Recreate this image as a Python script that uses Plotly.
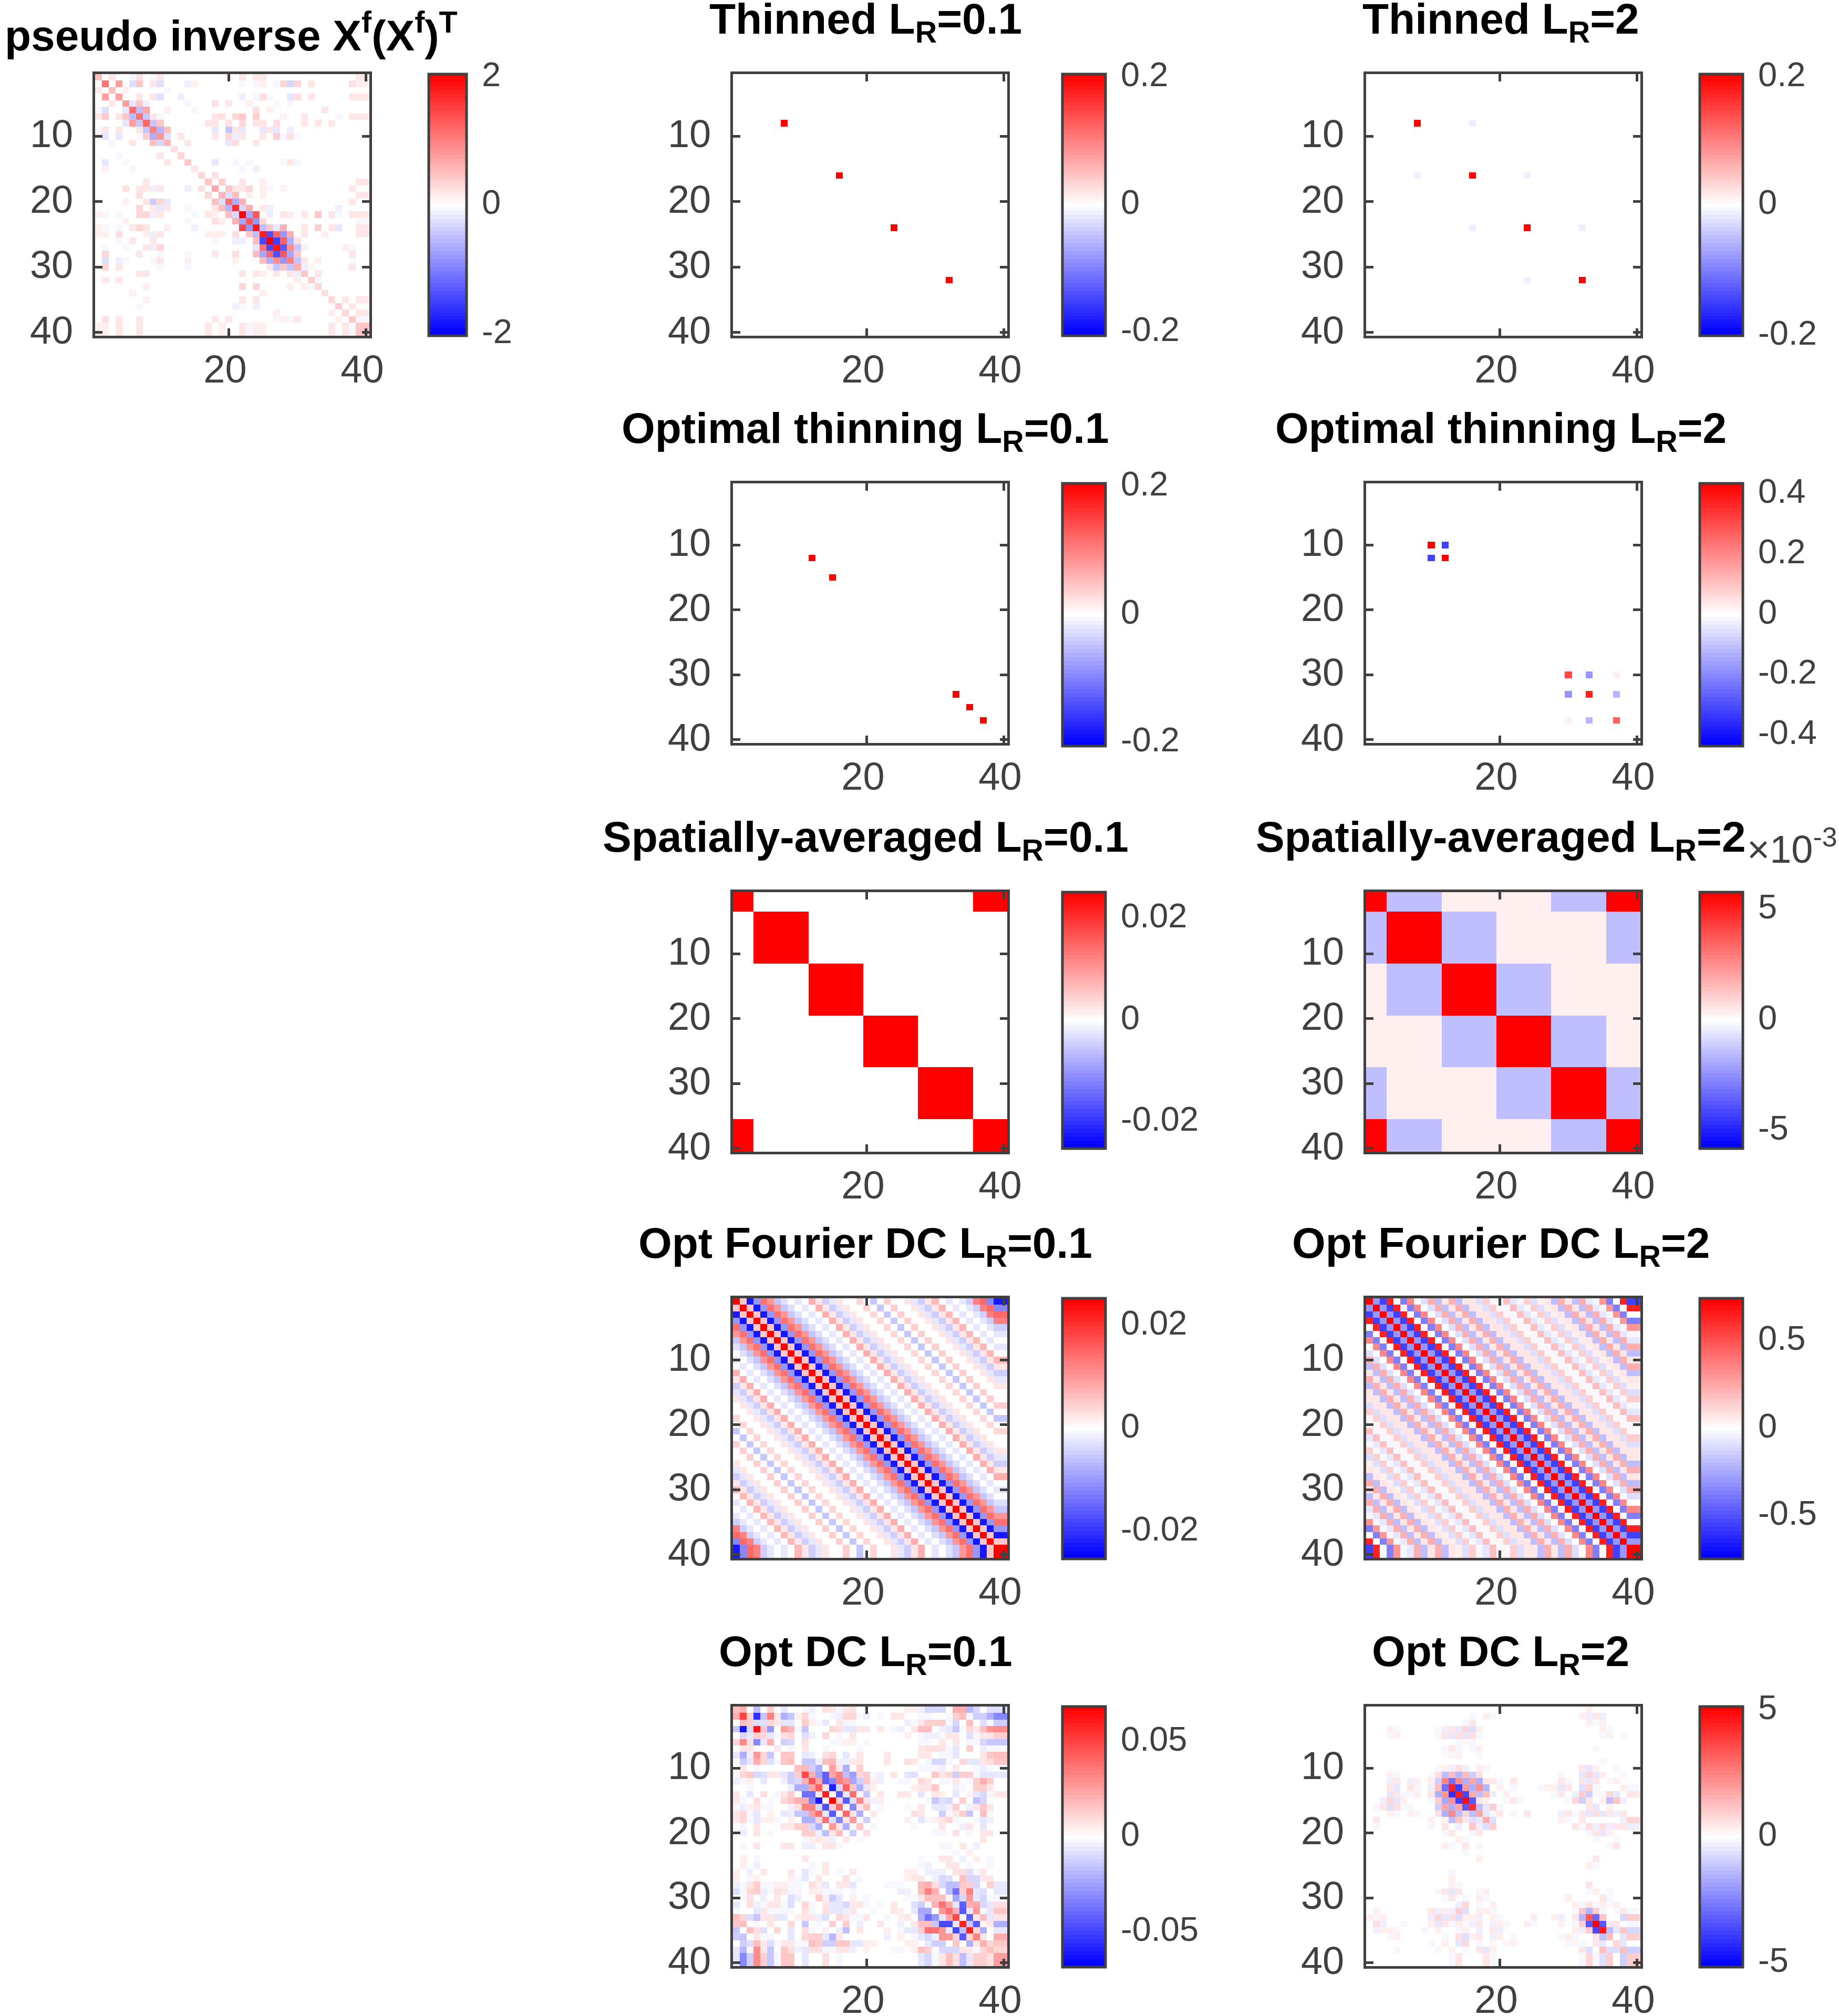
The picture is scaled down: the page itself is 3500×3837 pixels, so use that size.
import plotly.graph_objects as go

# values, in percent of each panel's colour limit
# each row: {column: percent}, rows/columns 1-39, the 40th repeats the 39th
pinv_rows = [
    {1:25,3:8,6:-3,7:12,9:-4,10:10,20:5,22:10,24:10,25:10,39:10},
    {2:55,4:38,6:-12,7:22,9:8,10:-12,14:-6,15:6,22:-4,24:-3,25:5,27:-3,28:15,29:-15,30:15,32:8,38:12,39:7},
    {1:8,3:25,5:6,11:-4},
    {2:38,4:38,7:8,9:8,10:-12,13:-5,22:-5,24:-4,25:12,26:-4,29:-10,30:12,32:8,38:8,39:8},
    {3:8,5:38,6:-8,7:22,8:-7,14:-3,18:12,20:8,23:6,27:-2,29:-4},
    {1:-3,2:-12,5:-8,6:55,7:-25,8:35,11:7,15:-3,24:12,26:6,34:8},
    {1:8,2:22,4:8,5:22,6:-25,7:55,8:-20,9:10,10:-3,18:10,19:12,21:15,22:20,24:18,28:6,31:8,36:-4,38:10,39:8},
    {5:-8,6:38,7:-22,8:60,9:-22,10:22,17:8,18:8,20:10,22:15,24:8,25:8,27:12,31:8,33:10,35:10},
    {1:-3,2:10,4:8,7:10,8:-22,9:50,10:-28,11:25,18:-8,20:-20,21:10,22:-8,25:-8,26:8,27:-8,29:-5},
    {1:5,2:-10,4:-10,7:-3,8:18,9:-30,10:40,11:-12,13:8,18:8,20:15,21:-6,22:10,25:10,27:18,28:-3,29:12,30:-3},
    {3:-3,6:8,9:25,10:-15,11:28,14:8,20:-8,21:12,24:10},
    {12:12},
    {4:-3,10:10,13:15},
    {2:-10,5:-4,11:8,14:20,18:-8,21:-3,23:-3,28:-3,29:8,30:-3},
    {2:7,6:-3,15:10,22:-3,24:-6},
    {16:15,18:12},
    {8:8,17:20,19:18,22:10,25:7,39:10},
    {5:12,7:8,8:8,9:-6,10:8,14:-6,16:12,18:35,20:22,21:8,22:8,23:15,25:7,26:-3,28:6,38:8},
    {7:12,17:15,19:28,20:-12,21:25,23:6,25:7,39:8},
    {1:4,5:6,8:10,9:-18,10:15,11:-8,18:25,19:-12,20:55,21:-32,22:30,38:8},
    {7:15,9:10,10:-8,11:8,14:-3,18:8,19:25,20:-28,21:80,22:-15,23:30,25:10,26:-6,36:-6},
    {1:6,2:-3,4:-3,7:15,8:15,9:-6,10:10,15:-3,17:8,18:6,20:25,21:-15,22:100,23:-35,24:65,26:-6,28:10,29:6,31:10,33:20,35:10,36:-3,38:10,39:8},
    {5:6,14:-3,18:12,19:6,21:30,22:-35,23:65,24:-40,25:15,39:-4},
    {1:6,2:-4,4:-4,6:10,7:15,8:8,11:7,15:-6,22:70,23:-40,24:90,25:-25,26:22,27:-10,28:30,31:10,33:18,35:10,36:-8,39:10},
    {1:6,2:6,4:12,8:7,9:-7,10:10,17:6,18:6,19:6,21:12,23:22,24:-25,25:85,26:-68,27:60,28:-40,29:30,31:8,34:6,39:8},
    {4:-3,6:8,9:8,18:-3,21:-6,22:-6,24:25,25:-70,26:100,27:-75,28:62,29:-30,30:12},
    {2:-3,5:-3,8:10,9:-5,10:15,24:-10,25:55,26:-72,27:90,28:-65,29:42,30:-20,31:7,37:6,38:-3},
    {2:15,7:8,10:-3,14:-3,18:10,21:12,24:25,25:-35,26:60,27:-68,28:65,29:-35,30:22,38:8},
    {2:-12,4:-6,5:-3,9:-3,10:10,14:7,21:6,25:25,26:-30,27:42,28:-40,29:50,30:-20,31:8,33:6,38:-3},
    {2:15,4:10,10:-3,14:-3,26:10,27:-20,28:22,29:-20,30:30,31:-6,32:4,38:8},
    {7:8,8:8,22:10,24:10,25:6,27:10,29:10,30:-6,31:22,33:8},
    {2:8,4:8,30:6,32:18,33:-3},
    {8:6,22:15,24:15,29:6,31:6,32:-3,33:15},
    {6:6,25:5,34:13},
    {8:7,22:10,24:8,35:15,37:8,39:8},
    {7:-3,21:-6,22:-3,24:-6,36:18,38:8},
    {27:6,35:6,37:15,39:10},
    {2:12,4:8,7:8,18:8,20:8,27:-3,28:6,29:-3,30:8,36:6,38:22,39:-4},
    {1:7,2:7,4:8,7:8,17:8,19:7,22:10,23:-3,24:7,25:7,35:8,37:8,38:-4,39:20},
]

# single cells: row, column, percent
thin01_rows = [8, 16, 24, 32]
thin01_vals = [100, 100, 100, 100]
thin2_rows = [8, 16, 24, 32, 8, 16, 16, 24, 24, 32]
thin2_cols = [8, 16, 24, 32, 16, 8, 24, 16, 32, 24]
thin2_vals = [100, 100, 100, 100, -6, -6, -6, -6, -6, -6]
opt01_rows = [12, 15, 33, 35, 37]
opt01_vals = [100, 100, 100, 100, 100]
opt2_rows = [10, 10, 12, 12, 30, 30, 30, 33, 33, 33, 37, 37, 37]
opt2_cols = [10, 12, 10, 12, 30, 33, 37, 30, 33, 37, 30, 33, 37]
opt2_vals = [100, -75, -75, 100, 70, -40, 6, -40, 85, -27, 6, -27, 60]

# spatially averaged panels: first index of each block, then block values
block_starts = [1, 4, 12, 20, 28, 36]
spatial01_blocks = [
    [100, 0, 0, 0, 0, 100],
    [0, 100, 0, 0, 0, 0],
    [0, 0, 100, 0, 0, 0],
    [0, 0, 0, 100, 0, 0],
    [0, 0, 0, 0, 100, 0],
    [100, 0, 0, 0, 0, 100],
]
spatial2_blocks = [
    [100, -25, 6, 6, -25, 100],
    [-25, 100, -25, 6, 6, -25],
    [6, -25, 100, -25, 6, 6],
    [6, 6, -25, 100, -25, 6],
    [-25, 6, 6, -25, 100, -25],
    [100, -25, 6, 6, -25, 100],
]

# Fourier panels: value by distance from the diagonal
fourier01_lags = [100, 20, -90, -40, 55, 40, -20, -12, 0, -10, 0, 30, 10, -18, -8, 8, 0, 0, 15, 0,
                  -22, 0, 18, 0, 0, 10, -8, -17, 8, 28, 0, -8, 0, -10, -18, 50, 60, -45, -90]
fourier2_lags = [100, -40, -75, 85, 2, -50, 45, 0, -12, 30, -25, 10, 30, -25, 8, 10, -12, 18, 3, -3,
                 25, -10, -3, 20, -12, 6, 8, -25, 30, 8, -25, 30, -10, -3, 40, -50, 0, 85, -75]

optdc01_rows = [
    {1:25,2:30,4:-25,6:18,8:-8,11:-3,12:-6,14:12,15:8,16:-3,17:10,18:12,26:7,27:7,28:-5,29:-15,30:-15,31:-15,33:30,34:30,35:-28,36:-15,38:-12,39:-12},
    {1:30,2:75,3:20,4:-80,5:-20,6:50,7:8,8:-30,9:-20,10:6,11:15,12:-3,15:-3,16:-6,17:14,18:14,19:-4,20:-6,22:-3,24:8,25:8,28:-4,29:-4,32:-3,33:20,34:25,35:-4,36:-18,37:-18,38:-30,39:-45},
    {2:25,3:20,4:-12,5:-12,6:15,7:8,8:-8,9:-10,11:18,12:6,13:-3,14:-8,16:8,17:-3,18:-3,26:-6,27:-3,28:10,29:20,30:20,31:20,32:-3,33:-15,35:25,37:-12,38:-3,39:-18},
    {1:-22,2:-90,3:-15,4:88,5:22,6:-40,8:38,9:28,10:-3,11:-20,15:14,16:12,17:-8,18:-8,19:8,20:8,22:8,24:-3,25:-6,27:8,28:25,29:25,31:-6,32:-10,33:-22,34:-3,35:14,36:10,37:25,38:40,39:42},
    {2:-15,3:-10,4:18,5:15,6:-10,7:-3,8:12,9:15,11:-12,12:-5,14:15,16:-3,18:8,26:6,28:-4,29:-6,30:-6,31:-3,32:8,33:10,35:-12,36:-3,37:10,38:8,39:18},
    {1:15,2:45,3:12,4:-45,5:-10,6:30,8:-18,9:-15,11:12,15:-3,16:-3,17:7,18:6,20:-3,28:-3,29:-3,31:8,33:8,35:-3,36:-3,37:-15,38:-22,39:-22},
    {2:10,3:10,7:8,9:-3,11:8,14:-3,19:-3,28:8,29:12,30:12,31:10,32:-3,33:-8,35:18,37:-6,38:-3,39:-4},
    {1:-8,2:-30,3:-6,4:40,5:15,6:-22,8:22,9:22,11:-10,12:-6,14:12,15:15,17:-10,19:10,23:10,28:8,29:8,31:-4,32:-4,33:-10,37:8,38:22,39:24},
    {2:-18,3:-8,4:30,5:15,6:-12,7:-3,8:22,9:25,11:-20,12:-20,13:-6,14:25,15:28,16:-6,17:-6,18:8,19:8,23:10,26:12,27:8,29:-3,30:-15,31:-15,32:-3,34:15,35:-10,36:-10,37:8,38:12,39:22},
    {2:8,4:-3,10:25,11:28,12:-18,13:-30,15:38,16:10,17:-30,19:20,28:-3,29:-3,30:-3,31:-6,33:10,36:-3,37:-6,38:-3},
    {1:-3,2:15,3:22,4:-15,5:-12,6:10,7:10,8:-10,9:-18,10:20,11:70,12:30,13:-35,14:-60,15:35,16:50,17:-25,18:-38,19:15,20:20,21:-3,22:-6,24:8,26:-10,27:-12,30:22,31:10,32:15,33:-18,34:18,35:20,36:-3,37:-8,38:-8,39:-10},
    {1:-6,2:-3,3:7,5:-8,8:-6,9:-18,10:-15,11:30,12:65,13:35,14:-60,15:-45,16:50,17:40,18:-35,19:-18,20:22,21:6,22:-6,25:-3,26:-3,28:15,29:10,31:-3,32:-3,33:10,35:-3,36:20,37:30,38:18},
    {3:-3,9:-6,10:-30,11:-30,12:35,13:62,14:8,15:-85,16:-15,17:62,18:22,19:-30,20:-8,21:6,27:6,28:10,29:10,30:22,33:-6,34:-3,36:18,37:18,38:10},
    {1:10,3:-10,5:12,7:-3,8:10,9:18,11:-55,12:-55,13:10,14:85,15:3,16:-65,17:-8,18:55,19:3,20:-22,22:8,25:8,26:10,28:-8,30:10,31:6,33:-10,35:5,36:-10,37:-15,38:-3,39:10},
    {1:8,2:-3,4:12,6:-3,8:15,9:22,10:32,11:32,12:-45,13:-90,14:2,15:100,16:18,17:-65,18:-12,19:45,20:10,21:-6,22:6,29:-3,30:-22,31:-12,32:-15,34:18,36:-25,37:-15},
    {1:-3,2:-6,3:5,4:10,5:-3,6:-3,9:-6,10:12,11:48,12:48,13:-15,14:-68,15:18,16:60,17:2,18:-45,19:10,20:25,22:-3,26:-3,28:10,30:-8,31:-8,32:-6,33:18,35:-6,36:10,37:22,38:10},
    {1:8,2:15,3:-3,4:-10,6:7,8:-8,9:-6,10:-22,11:-22,12:38,13:55,14:-8,15:-65,16:2,17:58,18:10,19:-30,21:8,27:12,28:8,31:-18,32:-3,33:10,34:18,35:-20,37:25,38:4},
    {1:10,2:14,3:-3,4:-10,5:6,6:6,7:-3,9:6,11:-30,12:-30,13:15,14:55,15:-12,16:-45,17:10,18:40,19:-4,20:-18,26:6,28:-8,29:-3,30:6,31:10,32:15,33:-3,36:-3,37:-8,38:-6},
    {2:-3,4:8,8:8,9:8,10:18,11:18,12:-15,13:-30,15:40,16:10,17:-30,18:-3,19:22,21:-3,27:-3,31:10,34:-6,35:10,37:-10},
    {2:-6,4:8,6:-3,11:20,12:20,13:-6,14:-25,15:8,16:25,18:-18,20:12,30:-3,31:-3,33:12,35:-3,37:10,38:8},
    {11:-3,12:6,13:8,14:6,15:-6,17:10,19:-3,37:8},
    {2:-3,4:8,8:8,9:8,11:-7,12:-7,14:10,15:8,16:-3,31:-3,32:-3,34:10,36:-6},
    {33:-3,35:6},
    {2:7,4:-3,11:8,28:-3,31:10,32:10,34:-6,36:6,38:-3},
    {2:7,4:-6,12:-3,14:8,28:-3,29:-6,32:8,33:8,35:-3,38:-3},
    {1:7,3:-5,5:8,9:10,11:-8,12:-3,14:10,16:-3,18:8,26:7,27:7,29:-6,30:-6,31:-6,33:12,34:12,35:-12,36:-3,37:8},
    {1:6,3:-3,4:6,9:7,10:-3,11:-10,13:8,17:12,19:-3,26:6,27:10,28:10,30:-6,31:-15,32:-12,34:25,35:-15,36:-15,37:8,38:8},
    {1:-6,2:-3,3:8,4:18,5:-4,6:-4,7:6,8:6,9:-3,10:-3,12:12,13:6,14:-8,16:10,17:10,18:-8,23:-3,24:-3,25:-3,28:28,29:30,30:12,31:-15,32:-25,33:-25,34:22,35:18,36:-15,38:18,39:-8},
    {1:-12,2:-3,3:15,4:18,5:-6,6:-4,7:12,8:8,9:-3,10:-3,12:6,13:6,14:-3,15:-3,16:-3,18:-3,25:-6,26:-6,28:25,29:50,30:30,32:-25,33:-55,34:18,35:50,36:-8,37:-12,39:-10},
    {2:-3,3:12,5:-5,7:10,9:-12,10:-5,13:18,14:6,15:-18,16:-10,18:6,20:-3,26:-4,27:-4,28:10,29:25,30:25,31:25,32:3,33:-35,34:-15,35:40,36:-8,37:-15,38:-3,39:-3},
    {1:-10,3:12,4:-5,5:-3,6:8,7:8,8:-3,9:-12,11:15,12:-3,14:8,15:-8,16:-8,17:-15,18:10,19:10,20:-3,22:-3,24:8,27:-12,28:-18,29:-3,30:30,31:55,32:35,33:-8,34:-62,35:30,36:35,37:-15,38:-8,39:12},
    {1:-3,4:-8,5:8,6:-3,7:-3,8:-3,9:-3,11:12,12:-3,14:12,15:-8,16:-8,17:-6,18:10,21:-3,24:8,25:6,27:-8,28:-35,29:-35,31:40,32:55,33:30,34:-65,35:-8,36:40,37:-3,38:-10,39:22},
    {1:25,2:15,3:-12,4:-22,5:8,6:8,7:-8,8:-8,10:6,11:10,12:10,13:-6,14:-12,16:15,17:8,18:-3,19:-3,20:8,23:-3,25:5,26:8,28:-30,29:-55,30:-40,31:-10,32:35,33:72,34:-3,35:-62,36:8,37:25,38:-10,39:10},
    {1:22,2:25,4:-3,6:8,9:14,11:-20,13:-3,15:18,17:18,19:-6,22:10,25:-5,27:10,28:25,29:25,30:-20,31:-70,32:-70,33:-10,34:85,35:-20,36:-65,37:2,38:10,39:-30},
    {1:-22,3:25,4:12,5:-12,7:15,9:-8,11:12,12:-3,14:6,16:-6,17:-25,19:10,23:6,25:-3,26:-10,27:-10,28:18,29:55,30:55,31:40,32:-8,33:-70,34:-25,35:85,36:15,37:-30,39:-8},
    {1:-18,2:-22,4:10,5:-3,6:-3,9:-8,11:15,12:20,13:20,14:-10,15:-28,16:8,23:-6,25:6,27:-3,28:-8,29:-15,30:-5,31:40,32:40,33:15,34:-65,35:15,36:48,37:8,39:30},
    {2:-18,3:-12,4:25,5:8,6:-12,7:-3,8:8,9:8,10:-3,11:-3,12:25,13:20,14:-18,15:-18,16:22,17:22,18:-10,19:-10,20:5,21:5,26:5,27:5,29:-10,30:-18,31:-18,33:22,35:-30,36:8,37:30,38:15,39:22},
    {1:-8,2:-28,3:-4,4:42,5:8,6:-20,8:22,9:12,10:-6,11:-8,12:12,13:12,14:-3,15:-3,16:10,17:8,18:-6,20:6,24:-3,25:-3,27:6,28:25,29:20,31:-15,32:-15,33:-15,34:10,35:8,36:-3,37:15,38:25,39:14},
    {1:-8,2:-45,3:-18,4:42,5:20,6:-22,7:-3,8:22,9:22,11:-10,14:12,16:-3,28:-8,29:-15,30:-3,31:10,32:25,33:12,34:-25,35:-8,36:20,37:20,38:12,39:38},
]

optdc2_rows = [
    {33:6},
    {16:-2,18:5,19:-2,32:5,33:-5,34:10,35:-5},
    {15:-4,16:10,33:5,34:-3,35:5},
    {4:5,5:-2,11:4,12:-7,13:10,14:-10,15:14,16:-12,17:7,35:5,36:-3},
    {4:-2,5:5,11:-2,12:10,13:-8,14:12,15:-8,16:12,17:-3,35:-2,36:5,38:-3},
    {14:-2,15:4,16:-2},
    {12:-4,13:8,14:-2,16:-2,17:5,34:-3},
    {12:4,13:-4,14:5,17:-3},
    {35:-3},
    {11:-2,12:6,13:-6,14:12,15:-5,17:5,18:-2,32:10,33:-8,34:6,37:-2},
    {4:5,5:-2,10:-2,11:12,12:-25,13:25,14:-28,15:25,16:-20,17:12,29:-3,32:-8,33:15,34:-10,35:5,38:-3},
    {4:-7,5:10,7:-5,8:6,10:5,11:-20,12:45,13:-55,14:42,15:-30,16:35,17:-30,18:8,19:8,20:-2,22:8,29:10,30:-4,32:8,33:-10,34:10,36:-2,37:6},
    {4:10,5:-10,7:8,8:-4,10:-5,11:25,12:-55,13:85,14:-75,15:40,16:-30,17:42,18:-28,20:7,22:-2,26:-2,27:5,28:5,29:-10,30:8,32:-12,33:15,34:-2,38:5,39:-4},
    {4:-10,5:10,6:-2,7:-2,8:5,10:10,11:-30,12:40,13:-80,14:85,15:-70,16:30,17:-25,18:25,19:-6,21:5,28:-2,29:8,31:-6,32:18,33:-18,34:3,35:-2,36:15,37:-10,39:10},
    {3:-6,4:15,5:-10,6:6,10:-4,11:18,12:-35,13:42,14:-75,15:95,16:-65,17:10,18:5,21:-2,22:8,23:-2,30:-2,31:15,32:-20,33:8,35:6,36:-25,37:22,38:-5},
    {2:-2,3:10,4:-12,5:12,6:-2,7:-2,11:-18,12:35,13:-30,14:35,15:-65,16:80,17:-25,18:-10,19:20,20:-2,33:8,34:-8,36:5},
    {4:6,5:-4,7:6,8:-2,11:12,12:-30,13:45,14:-25,15:15,16:-25,17:35,18:-8,19:-4,20:10,22:-2,24:8,29:-6,30:8,31:-2,32:8,33:-8,34:12,35:-8,36:8,37:-5,38:10},
    {2:8,10:7,12:7,13:-25,14:22,15:8,16:-12,17:-10,18:30,19:-12,29:7,30:-2,32:8,38:-6,39:14},
    {2:-3,10:-3,12:8,14:-6,16:22,17:-6,18:-12,19:18,31:8,32:-4,33:12,34:-6,35:12,36:-6,37:10,38:10,39:-6},
    {12:-3,13:10,16:-2,17:8,33:-2,34:10,35:-10,36:7},
    {14:6,15:-3,34:-2,37:-3},
    {12:6,13:-2,15:8,17:-2,36:-2,37:8},
    {15:-2},
    {17:6,34:8},
    {33:6,34:-2},
    {13:-2},
    {13:6},
    {13:6,14:-2,33:8},
    {11:-2,12:10,13:-10,14:8,17:-4,18:5,33:-4,34:5,36:-2},
    {12:-3,13:10,15:-2,17:6,18:-2,30:5,35:8,36:-2},
    {14:-6,15:15,17:-2,19:5,31:5,32:-3,33:8,34:-4,35:6,36:-3,37:6},
    {2:6,10:8,11:-6,12:6,13:-6,14:18,15:-12,17:5,18:5,19:-4,31:-3,32:22,33:-28,34:20,35:-4,37:-4,38:10,39:-3},
    {1:5,2:-4,3:5,10:-6,11:15,12:-8,13:12,14:-12,15:7,16:5,17:-6,19:6,20:-3,25:6,28:6,29:-5,31:8,32:-28,33:65,34:-60,35:22,38:-15,39:18},
    {2:12,3:-5,6:-3,10:5,11:-10,12:10,13:-3,14:5,15:3,16:-5,17:10,19:-5,20:6,21:-3,24:5,25:-2,29:5,31:-3,32:18,33:-65,34:100,35:-65,36:10,37:10,39:-3},
    {2:-6,3:5,4:5,5:-3,9:-2,11:5,14:-3,15:6,17:-6,19:10,20:-6,31:7,32:-5,33:20,34:-70,35:90,36:-25,37:-8,38:22,39:-15},
    {4:-2,5:5,12:-2,14:12,15:-12,16:5,17:8,19:-5,20:5,22:-2,29:-2,30:6,31:-4,34:8,35:-25,36:25,38:-10,39:18},
    {10:-2,12:5,14:-8,15:15,17:-3,19:3,21:-2,22:6,30:-2,31:4,32:-4,34:8,35:-8,37:15,38:-10},
    {5:-2,11:-2,13:6,15:-4,17:8,18:-8,19:6,32:10,33:-12,35:25,36:-12,37:-12,38:25,39:-18},
    {13:-2,14:8,18:8,19:-3,32:-2,33:15,34:-2,35:-12,36:18,38:-18,39:18},
]

titles = [
    "pseudo inverse X<sup>f</sup>(X<sup>f</sup>)<sup>T</sup>",
    "Thinned L<sub>R</sub>=0.1", "Thinned L<sub>R</sub>=2",
    "Optimal thinning L<sub>R</sub>=0.1", "Optimal thinning L<sub>R</sub>=2",
    "Spatially-averaged L<sub>R</sub>=0.1", "Spatially-averaged L<sub>R</sub>=2",
    "Opt Fourier DC L<sub>R</sub>=0.1", "Opt Fourier DC L<sub>R</sub>=2",
    "Opt DC L<sub>R</sub>=0.1", "Opt DC L<sub>R</sub>=2",
]
color_limits = [2.02, 0.205, 0.2, 0.205, 0.436, 0.0252, 5.8, 0.0253, 0.745, 0.0685, 5.15]
bar_ticks = [
    [-2, 0, 2], [-0.2, 0, 0.2], [-0.2, 0, 0.2], [-0.2, 0, 0.2], [-0.4, -0.2, 0, 0.2, 0.4],
    [-0.02, 0, 0.02], [-5, 0, 5], [-0.02, 0, 0.02], [-0.5, 0, 0.5], [-0.05, 0, 0.05], [-5, 0, 5],
]
axis_ticks_x = [20, 40]
axis_ticks_y = [10, 20, 30, 40]


def from_rows(rows):
    z = [[row.get(min(c, 39), 0) for c in range(1, 41)] for row in rows]
    return z + [z[-1]]

def from_cells(rows, cols, vals):
    z = [[0] * 40 for _ in range(40)]
    for r, c, v in zip(rows, cols, vals):
        z[r - 1][c - 1] = v
    return z

def block_of(i):
    return sum(1 for s in block_starts if s <= i) - 1

def from_blocks(blocks):
    return [[blocks[block_of(r)][block_of(c)] for c in range(1, 41)] for r in range(1, 41)]

def from_lags(lags):
    return [[lags[abs(min(r, 39) - min(c, 39))] for c in range(1, 41)] for r in range(1, 41)]

panels = [
    from_rows(pinv_rows),
    from_cells(thin01_rows, thin01_rows, thin01_vals),
    from_cells(thin2_rows, thin2_cols, thin2_vals),
    from_cells(opt01_rows, opt01_rows, opt01_vals),
    from_cells(opt2_rows, opt2_cols, opt2_vals),
    from_blocks(spatial01_blocks),
    from_blocks(spatial2_blocks),
    from_lags(fourier01_lags),
    from_lags(fourier2_lags),
    from_rows(optdc01_rows),
    from_rows(optdc2_rows),
]

# layout in page pixels
W, H = 3500, 3837
INK = "#404040"
FONT = "Liberation Sans"
row_tops = [141, 920, 1698, 2471, 3248]
box_heights = [498, 494, 494, 494, 494]
bar_heights = [498, 500, 488, 496, 496]
col_lefts = {0: 181, 1: 1395, 2: 2600}
box_w = 522
bar_lefts = {0: 816, 1: 2022, 2: 3235}
bar_w = {0: 72, 1: 82, 2: 82}
title_x = {0: 440, 1: 1647, 2: 2856}
spots = [(0, 0), (0, 1), (0, 2), (1, 1), (1, 2), (2, 1), (2, 2), (3, 1), (3, 2), (4, 1), (4, 2)]

# 32 steps either side of a white middle, like the stepped map of the original
steps = []
for k in range(65):
    t = (k - 32) / 32
    r = 255 if t >= 0 else round(255 * (1 + t))
    b = 255 if t <= 0 else round(255 * (1 - t))
    g = min(r, b)
    steps.append([k / 65, f"rgb({r},{g},{b})"])
    steps.append([(k + 1) / 65, f"rgb({r},{g},{b})"])

fig = go.Figure()
axes = {}
notes = []
for i, (z, lim, ticks, title, (row, col)) in enumerate(zip(panels, color_limits, bar_ticks, titles, spots), start=1):
    left, top = col_lefts[col], row_tops[row]
    box_h = box_heights[row]
    scaled = [[v * lim / 100 for v in line] for line in z]
    # the original's bar labels sit a little above their ticks
    lifted = [min(lim, t + 0.025 * lim) for t in ticks]
    fig.add_trace(go.Heatmap(
        z=scaled, x=list(range(1, 41)), y=list(range(1, 41)),
        xaxis=f"x{i}", yaxis=f"y{i}", zmin=-lim, zmax=lim, colorscale=steps,
        hoverongaps=False,
        colorbar=dict(
            x=bar_lefts[col] / W, xanchor="left", xpad=0,
            y=1 - top / H, yanchor="top", ypad=0,
            lenmode="pixels", len=bar_heights[row], thicknessmode="pixels", thickness=bar_w[col],
            outlinewidth=5, outlinecolor=INK, borderwidth=0,
            tickvals=lifted, ticktext=[f"{t:g}" for t in ticks],
            ticks="outside", ticklen=14, tickcolor="rgba(0,0,0,0)",
            tickfont=dict(family=FONT, size=65, color=INK),
        ),
    ))
    axes[f"xaxis{i}"] = dict(
        domain=[left / W, (left + box_w) / W], anchor=f"y{i}", range=[0.5, 40.5],
        tickvals=axis_ticks_x, ticks="inside", ticklen=14, tickwidth=5, tickcolor=INK,
        ticklabelstandoff=-5, ticklabelshift=-7,
        showline=True, linewidth=5, linecolor=INK, mirror="allticks", showgrid=False, zeroline=False,
        tickfont=dict(family=FONT, size=74, color=INK),
    )
    axes[f"yaxis{i}"] = dict(
        domain=[1 - (top + box_h) / H, 1 - top / H], anchor=f"x{i}", range=[40.5, 0.5],
        tickvals=axis_ticks_y, ticks="inside", ticklen=14, tickwidth=5, tickcolor=INK,
        ticklabelstandoff=22, ticklabelshift=5,
        showline=True, linewidth=5, linecolor=INK, mirror="allticks", showgrid=False, zeroline=False,
        tickfont=dict(family=FONT, size=74, color=INK),
    )
    # the first title has no subscript and sits lower over its box
    gap = 26 if i == 1 else 46
    notes.append(dict(
        text=f"<b>{title}</b>", x=title_x[col] / W, y=1 - (top - gap) / H,
        xref="paper", yref="paper", xanchor="center", yanchor="bottom", showarrow=False,
        font=dict(family=FONT, size=82, color="black"),
    ))

notes.append(dict(
    text="×10<sup>-3</sup>", x=3323 / W, y=1 - 1660 / H, xref="paper", yref="paper",
    xanchor="left", yanchor="bottom", showarrow=False, font=dict(family=FONT, size=74, color=INK),
))

fig.update_layout(
    width=W, height=H, margin=dict(l=0, r=0, t=0, b=0, pad=0, autoexpand=False),
    paper_bgcolor="white", plot_bgcolor="white", annotations=notes, **axes,
)
fig.write_html("out.html", config={"displayModeBar": False}, post_script="document.body.style.margin='0';")
